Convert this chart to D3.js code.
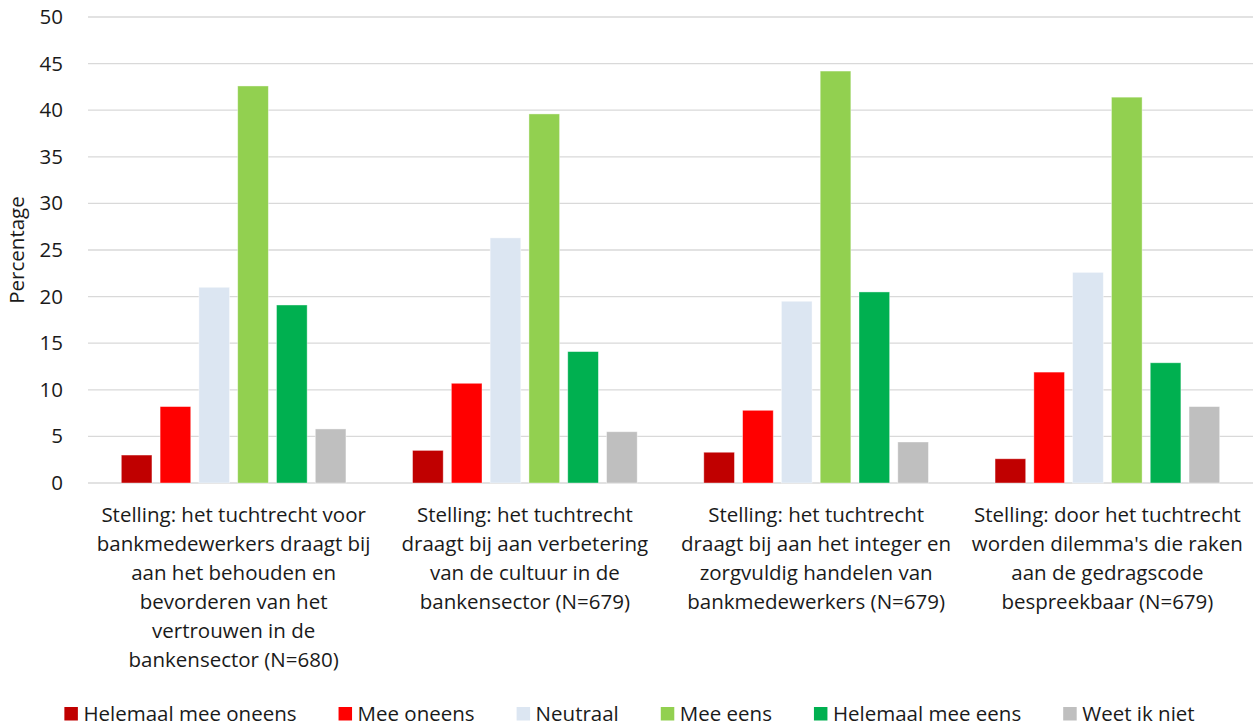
<!DOCTYPE html>
<html>
<head>
<meta charset="utf-8">
<script src="https://cdn.jsdelivr.net/npm/d3@7"></script>
<style>
  body { margin: 0; background: #fff; }
  text { font-family: "Open Sans", "Noto Sans", sans-serif; fill: #1a1a1a; }
</style>
</head>
<body>
<div id="chart"></div>
<script>
// data
const categories = [
  ['Stelling: het tuchtrecht voor', 'bankmedewerkers draagt bij', 'aan het behouden en', 'bevorderen van het', 'vertrouwen in de', 'bankensector (N=680)'],
  ['Stelling: het tuchtrecht', 'draagt bij aan verbetering', 'van de cultuur in de', 'bankensector (N=679)'],
  ['Stelling: het tuchtrecht', 'draagt bij aan het integer en', 'zorgvuldig handelen van', 'bankmedewerkers (N=679)'],
  ['Stelling: door het tuchtrecht', "worden dilemma's die raken", 'aan de gedragscode', 'bespreekbaar (N=679)']
]
const seriesNames = ['Helemaal mee oneens', 'Mee oneens', 'Neutraal', 'Mee eens', 'Helemaal mee eens', 'Weet ik niet']
const seriesColors = ['#C00000', '#FF0000', '#DCE6F2', '#92D050', '#00B050', '#BFBFBF']
const helemaalOneens = [3.0, 3.5, 3.3, 2.6]
const meeOneens = [8.2, 10.7, 7.8, 11.9]
const neutraal = [21.0, 26.3, 19.5, 22.6]
const meeEens = [42.6, 39.6, 44.2, 41.4]
const helemaalEens = [19.1, 14.1, 20.5, 12.9]
const weetNiet = [5.8, 5.5, 4.4, 8.2]
const yTicks = [0, 5, 10, 15, 20, 25, 30, 35, 40, 45, 50]
const yTitle = 'Percentage'

const values = [helemaalOneens, meeOneens, neutraal, meeEens, helemaalEens, weetNiet]
const catKeys = categories.map(c => c.join(' '))

const dms = {
  width: 1259,
  height: 726,
  margin: { top: 17, right: 6, bottom: 243, left: 88 }
}
dms.contentWidth = dms.width - dms.margin.left - dms.margin.right
dms.contentHeight = dms.height - dms.margin.top - dms.margin.bottom

const fontSize = '20.5px'

const svg = d3.select('#chart').append('svg')
    .attr('width', dms.width)
    .attr('height', dms.height)

const content = svg.append('g')
    .attr('transform', `translate(${dms.margin.left},${dms.margin.top})`)

const yScale = d3.scaleLinear()
    .domain([0, 50])
    .range([dms.contentHeight, 0])

const x0 = d3.scaleBand()
    .domain(catKeys)
    .range([0, dms.contentWidth])

const groupPad = 33.3
const x1 = d3.scaleBand()
    .domain(seriesNames)
    .range([groupPad, x0.bandwidth() - groupPad])
    .paddingInner(0.21)

// gridlines
content.append('g')
    .selectAll('line')
    .data(yTicks)
    .join('line')
    .attr('x1', 0)
    .attr('x2', dms.contentWidth)
    .attr('y1', d => yScale(d))
    .attr('y2', d => yScale(d))
    .attr('stroke', '#d9d9d9')
    .attr('stroke-width', 1.3)

// y axis labels
const yAxis = content.append('g')
    .call(d3.axisLeft(yScale).tickValues(yTicks).tickSize(0).tickPadding(25))
yAxis.select('.domain').remove()
yAxis.selectAll('text')
    .style('font-size', fontSize)
    .style('font-family', '"Open Sans", "Noto Sans", sans-serif')
    .attr('fill', '#1a1a1a')

svg.append('text')
    .attr('transform', `translate(24,${dms.margin.top + dms.contentHeight / 2}) rotate(-90)`)
    .attr('text-anchor', 'middle')
    .style('font-size', fontSize)
    .text(yTitle)

// bars
const groups = content.append('g')
    .selectAll('g')
    .data(catKeys)
    .join('g')
    .attr('transform', d => `translate(${x0(d)},0)`)

groups.selectAll('rect')
    .data((d, i) => seriesNames.map((s, j) => ({ s, j, v: values[j][i] })))
    .join('rect')
    .attr('x', d => x1(d.s))
    .attr('width', x1.bandwidth())
    .attr('y', d => yScale(d.v))
    .attr('height', d => yScale(0) - yScale(d.v))
    .attr('fill', d => seriesColors[d.j])
    .attr('stroke', '#ffffff')
    .attr('stroke-opacity', 0.5)
    .attr('stroke-width', 0.8)

// category labels
const catLabels = content.append('g')
    .selectAll('text')
    .data(categories)
    .join('text')
    .attr('text-anchor', 'middle')
    .attr('x', (d, i) => x0(catKeys[i]) + x0.bandwidth() / 2)
    .attr('y', dms.contentHeight + 39)
    .style('font-size', fontSize)

catLabels.selectAll('tspan')
    .data(d => d)
    .join('tspan')
    .attr('x', function () { return d3.select(this.parentNode).attr('x') })
    .attr('dy', (d, i) => i === 0 ? 0 : 29)
    .text(d => d)

// legend
const legend = svg.append('g')
    .attr('transform', 'translate(0,714)')

const items = legend.selectAll('g')
    .data(seriesNames)
    .join('g')

items.append('rect')
    .attr('width', 13.5)
    .attr('height', 13.5)
    .attr('y', -7)
    .attr('fill', (d, i) => seriesColors[i])

items.append('text')
    .attr('x', 19)
    .attr('dy', '0.35em')
    .style('font-size', fontSize)
    .text(d => d)

const itemGap = 42
let widths = []
items.each(function () {
  widths.push(19 + d3.select(this).select('text').node().getComputedTextLength())
})
const total = d3.sum(widths) + itemGap * (widths.length - 1)
let cx = (dms.width - total) / 2
items.attr('transform', (d, i) => {
  const t = `translate(${cx},0)`
  cx += widths[i] + itemGap
  return t
})
</script>
</body>
</html>
